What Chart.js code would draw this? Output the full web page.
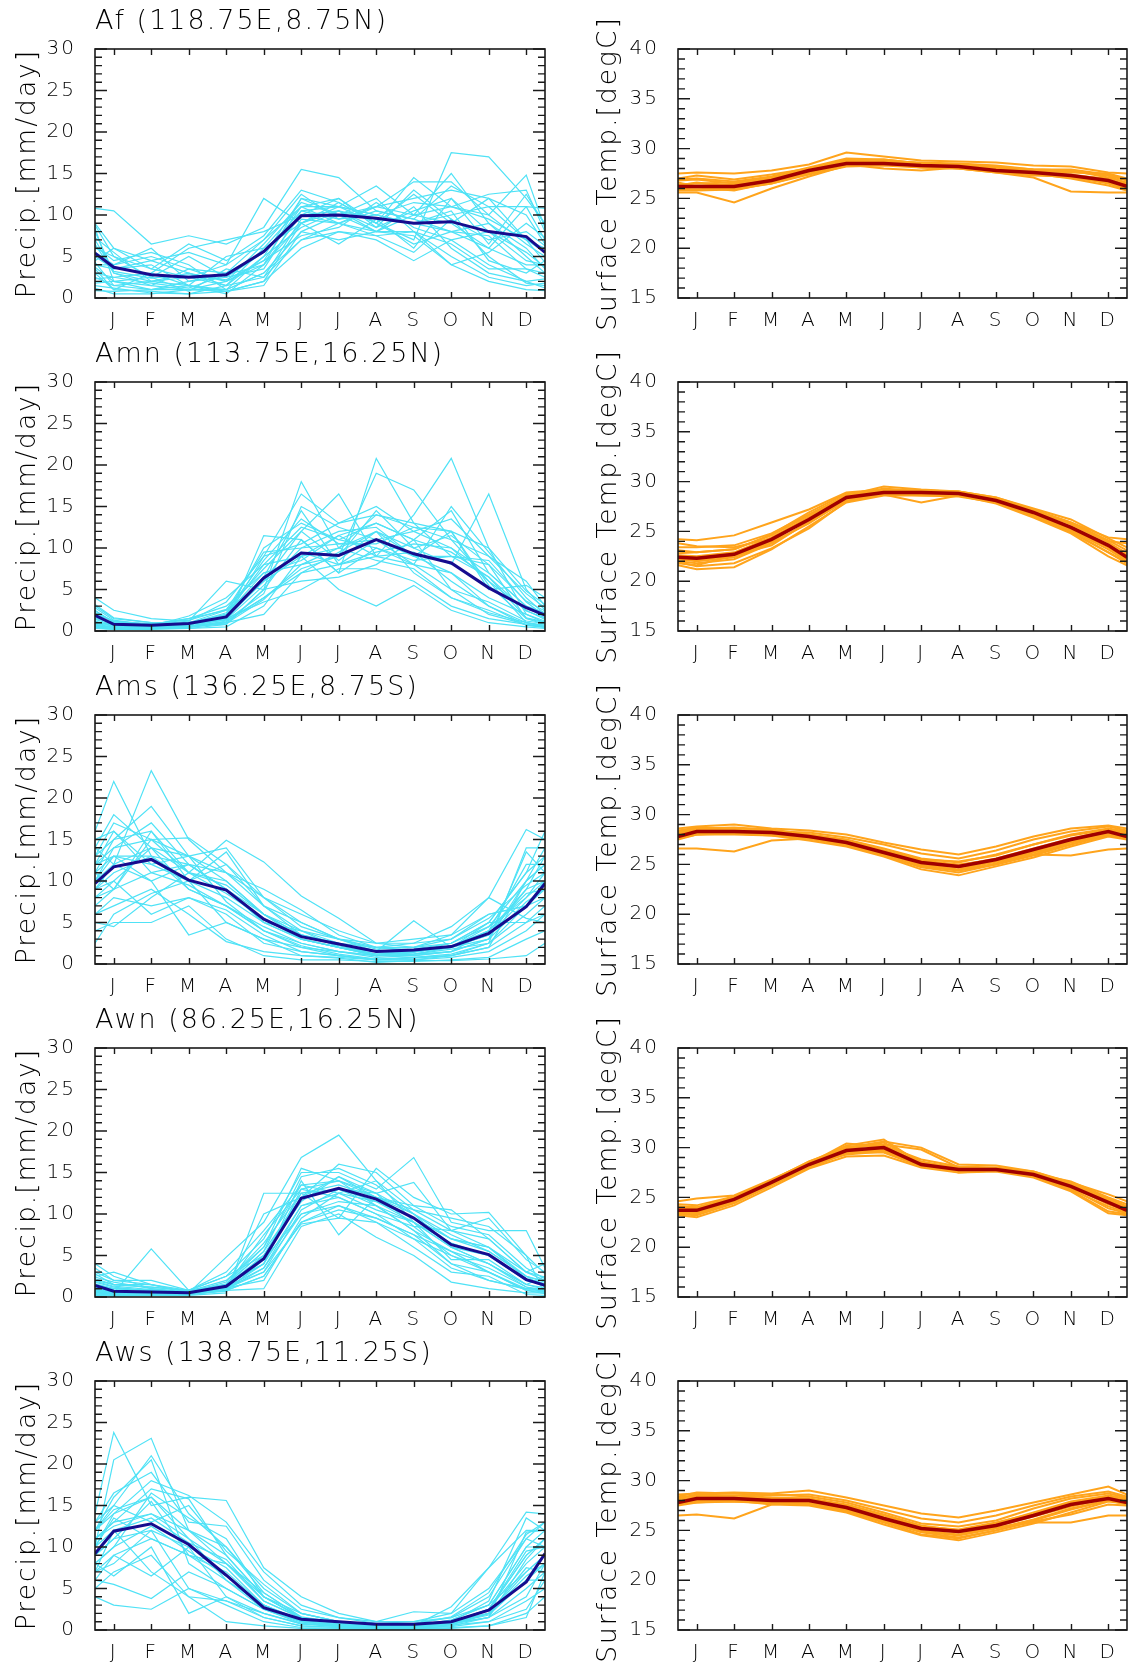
<!DOCTYPE html>
<html>
<head>
<meta charset="utf-8">
<script src="https://cdn.jsdelivr.net/npm/chart.js@4.4.1/dist/chart.umd.min.js"></script>
<style>
html,body{margin:0;padding:0;background:#fff;width:1128px;height:1668px;overflow:hidden;}
canvas{position:absolute;}
</style>
</head>
<body>
<script>
// ---------- axis / category data ----------
const monthLabels = ['J','F','M','A','M','J','J','A','S','O','N','D'];
const monthCenters = [0.5,1.5,2.5,3.5,4.5,5.5,6.5,7.5,8.5,9.5,10.5,11.5];
const xPositions = [0,0.5,1.5,2.5,3.5,4.5,5.5,6.5,7.5,8.5,9.5,10.5,11.5,12];
const precipRange = [0,30];
const tempRange = [15,40];
const majorStep = 5;
const minorStep = 1;
const precipLabel = 'Precip.[mm/day]';
const tempLabel = 'Surface Temp.[degC]';
const panelTitles = ['Af (118.75E,8.75N)','Amn (113.75E,16.25N)','Ams (136.25E,8.75S)','Awn (86.25E,16.25N)','Aws (138.75E,11.25S)'];

// ---------- Af ----------
const afPrecipMean = [5.4,3.7,2.8,2.5,2.8,5.6,9.9,10.0,9.6,9.0,9.2,8.0,7.4,5.5];
const afPrecipMembers = [
[10.8,10.5,6.5,7.5,6.5,8.5,15.5,14.5,10.5,9.5,8,6,11,10.8],
[9,6,4.5,5.5,4,12,9,11,9,7,17.5,17,12,9],
[8.4,2,1.5,1,1,3,7,9,11,14,14,10,14.8,8.4],
[8,3,2,2.5,1.5,5,12,11,13.5,10,11,12.5,13,8],
[3,1,0.8,0.5,0.8,1.5,8,7,8,10,15,9,5,3],
[4,4,6,2,3,7,11,12,9,12.5,9,6,4,4],
[1.2,0.5,0.5,1,0.8,2,6,8,7,4.5,7,4,2,1.2],
[2.3,2.5,3,6,7,8,10,9,8,11,6,3,2,2.3],
[7.3,5.5,2,3,2,4,12,10,12,8,4,5.5,9,7.3],
[4,3.5,4,1.5,5,6,9,6.5,9.5,6,12,8,4.5,4],
[4.3,1.5,1,2,2.5,3.5,10.5,11,10,9,10,11,7,4.3],
[6.3,4.5,5.5,4,1,5,8.5,10.5,8.5,13,9.5,7,8,6.3],
[1.8,2,2.5,0.8,3.5,2.5,9.5,9,7.5,8,5,2.5,1.5,1.8],
[6.5,3,1.5,3.5,2,6.5,11.5,10,11,12,13,12,10,6.5],
[3.5,1,3,1.5,0.5,4,9,11.5,9,6.5,8,9,6,3.5],
[4.5,6,3.5,2.5,4,7,12.5,9.5,10,9,10.5,4.5,3,4.5],
[0.9,0.8,1,1.5,1,3,8,10,8,7.5,4,2,1,0.9],
[8.8,5,2.5,5,2.5,5.5,10,12,8.5,10.5,12,6.5,12.5,8.8],
[3.7,2,1,1,2,4.5,7.5,8.5,11.5,8.5,7,8,5.5,3.7],
[5,3.5,4.5,3,1.5,6,11,11,10,11.5,11,10,6.5,5],
[2.5,1.5,2,1.5,0.8,2,9,10.5,9.5,9,8,7.5,3.5,2.5],
[5.5,4,5,3.5,3,5.5,10.5,9.5,11,10,9,12,7,5.5],
[1.5,1.2,0.6,0.5,1.5,2.5,7,8,7.5,5.5,9.5,5,1.8,1.5],
[6,5,3.5,6.5,4.5,7.5,13,11.5,9,14.5,11,9.5,7,6],
[3,2.5,1.8,1.2,2.8,4,10,10.5,8,8,6.5,3.5,3.5,3],
[7,3.2,2.4,2.8,2.2,4.5,11,9,10.5,9.5,13.5,11,11,7]
];
const afTempMean = [26.2,26.2,26.2,26.8,27.8,28.5,28.5,28.3,28.2,27.8,27.6,27.3,26.8,26.2];
const afTempMembers = [
[25.6,25.6,24.6,26.0,27.2,28.3,28.5,28.1,28.0,27.6,27.1,25.7,25.6,25.6],
[27.5,27.6,27.5,27.8,28.4,29.6,29.2,28.8,28.7,28.6,28.3,28.2,27.6,27.5],
[26.8,26.9,26.5,27.1,27.9,28.8,28.9,28.5,28.4,28.2,27.9,27.8,27.3,26.8],
[25.9,25.9,26.0,26.5,27.4,28.2,28.3,28.1,28.0,27.6,27.3,27.2,26.5,25.9],
[26.4,26.5,26.6,27.0,27.7,28.7,28.4,28.4,28.3,27.9,27.7,27.7,27.3,26.4],
[26.0,26.1,25.8,26.6,27.6,28.5,28.8,28.3,28.0,27.7,27.4,27.1,26.6,26.0],
[27.0,27.3,26.9,27.4,28.0,28.9,28.6,28.5,28.4,28.1,27.8,27.6,27.5,27.0],
[26.2,26.3,26.4,26.8,27.6,28.4,28.0,27.8,28.1,27.8,27.6,27.4,26.9,26.2],
[26.6,26.2,26.3,26.9,27.8,28.6,28.7,28.6,28.5,28.3,27.9,27.8,27.1,26.6],
[25.8,25.8,25.9,26.5,27.5,28.3,28.6,28.2,28.2,27.9,27.5,27.0,26.3,25.8],
[26.9,27.0,26.7,27.2,28.1,29.0,28.9,28.5,28.3,28.0,27.9,27.9,27.4,26.9],
[26.3,26.6,26.2,26.7,27.6,28.5,28.5,28.2,28.2,28.0,27.5,27.3,27.0,26.3]
];

// ---------- Amn ----------
const amnPrecipMean = [1.9,0.8,0.7,0.9,1.7,6.4,9.4,9.1,11.0,9.3,8.2,5.2,2.8,1.9];
const amnPrecipMembers = [
[4,2.5,1.5,1.2,6,5,18,10,12,9,12,5,5.5,4],
[0.8,0.5,0.3,0.5,1,11.5,11,7,20.8,13,9,8,1.5,0.8],
[1,0.8,0.5,1,2.5,6,12,16.5,9,14,20.8,10,2,1],
[2.5,1,0.8,1.5,3,7,8,9,14.5,10,8,16.5,5,2.5],
[0.3,0.2,0.2,0.3,0.5,3,9,5,3,5.5,2.5,1,0.5,0.3],
[1.5,1,0.5,0.8,1.5,9,16.5,13,15,12,10,7,3,1.5],
[0.5,0.3,0.5,0.5,1.2,4,7.5,9,19,17,11,6,1,0.5],
[2,1.2,0.6,0.8,2,8,12.5,11,10,8,15,9.5,4,2],
[0.5,0.5,0.3,0.3,0.8,5,6,6.5,8,11,5,2,0.8,0.5],
[1.2,0.6,0.8,1.5,2.5,9.5,10,12,12.5,9,7,4,2,1.2],
[3,1.5,1,0.5,1.5,6.5,14.5,8,11,12,13.5,9,6,3],
[0.5,0.3,0.5,1,1.5,3.5,5,7.5,7.5,6,3,1.5,0.8,0.5],
[1,0.8,0.6,1.8,4,8,9,10,14,13,12,5.5,1.5,1],
[1.8,0.8,0.5,0.6,0.8,5,11,7,10,8.5,9,8.5,3.5,1.8],
[0.6,0.4,0.3,0.7,2,7,8.5,11.5,9,9.5,6,3,1,0.6],
[2.2,1.2,0.8,1,2,10,13,11,13,11,14.5,7,3,2.2],
[0.4,0.2,0.3,0.4,1,2,7,9.5,12,7,4,2.5,0.7,0.4],
[1.4,0.7,0.6,0.9,1.8,6.5,9.5,8,9.5,10.5,10,6,2.5,1.4],
[0.9,0.6,0.5,0.8,1.3,4.5,15,12.5,11,8,5,3.5,1.2,0.9],
[2.8,1.3,0.7,1.2,3.5,9,10.5,13,14,12.5,11,9,4.5,2.8],
[1.1,0.6,0.4,0.6,1.4,5.5,10,10.5,11,9,9,6.5,1.6,1.1],
[2.4,1.1,0.9,1.3,2.6,7.5,12,8.5,12,10,11.5,8,3.6,2.4],
[0.7,0.4,0.3,0.5,0.9,3.8,8,10,8.5,7.5,4,2.2,1,0.7],
[1.6,0.9,0.6,0.9,1.6,6,9,11.5,13,11,9.5,6.5,2.4,1.6],
[3.2,1.6,1,0.9,2.2,8.5,13.5,10.5,10.5,12.5,12,10,4.8,3.2],
[0.5,0.3,0.4,0.6,1.1,4,7,8,9,8,7,3,0.7,0.5]
];
const amnTempMean = [22.4,22.3,22.7,24.2,26.2,28.4,28.9,28.9,28.8,28.1,26.9,25.4,23.6,22.4];
const amnTempMembers = [
[24.2,24.1,24.6,25.9,27.2,28.9,29.2,29.1,29.0,28.3,27.2,25.9,24.4,24.2],
[21.6,21.2,21.4,23.2,25.5,27.9,28.6,28.6,28.6,27.8,26.4,24.8,22.5,21.6],
[22.8,22.9,23.2,24.6,26.6,28.6,29.5,29.2,29.0,28.4,27.2,25.7,23.9,22.8],
[22.0,21.8,22.2,23.8,25.9,28.1,28.7,27.9,28.6,27.9,26.6,25.1,23.2,22.0],
[23.4,23.4,23.6,24.8,26.7,28.6,29.0,29.1,29.0,28.4,27.3,26.2,24.3,23.4],
[22.2,22.0,22.4,23.9,25.8,28.2,28.8,28.8,28.7,28.0,26.8,25.2,23.4,22.2],
[22.6,22.5,22.9,24.4,26.4,28.5,29.0,28.9,28.8,28.1,26.9,25.5,23.7,22.6],
[21.9,21.5,21.8,23.3,25.3,28.0,28.8,28.6,28.5,27.9,26.5,24.9,22.9,21.9],
[23.1,22.9,23.2,24.7,26.9,28.8,29.1,29.0,28.9,28.3,27.1,25.9,24.1,23.1],
[22.4,22.1,22.6,23.6,26.0,28.3,28.9,29.0,28.9,28.2,26.8,25.3,23.5,22.4],
[23.8,23.5,23.4,24.3,26.4,28.5,29.3,29.0,28.7,28.1,27.0,25.8,24.0,23.8],
[21.8,21.6,22.6,24.0,26.3,28.4,28.7,28.7,28.7,28.0,26.7,25.0,22.9,21.8]
];

// ---------- Ams ----------
const amsPrecipMean = [9.7,11.7,12.6,10.1,8.9,5.4,3.3,2.4,1.5,1.7,2.1,3.7,6.9,9.7];
const amsPrecipMembers = [
[16,22,13,12,9,6,4,3,2,1.5,2,5,11,16],
[9,12,23.3,15,11,8,5,3,2.5,3,3.5,6,7,9],
[5,4.5,8,11,14.9,12.3,8.2,5.5,2.5,2,3.5,8,5.5,5],
[14,18,14,9,7,4,2.5,1.5,0.8,1,1.5,3,10,14],
[11,15,19,13,10,6,3,2,1,1.2,2,4.5,8,11],
[4,5,5,7,3,1,0.5,0.5,0.3,0.3,0.5,0.8,3,4],
[13,17,15,15.2,12,7,3.5,2.5,1.5,5.2,2,3.5,9,13],
[7,9,16,10,8,5,4,2,1,1.5,2.5,5,5,7],
[12,13,10,3.5,5,3,2,1,0.5,0.8,1,2,10,12],
[15,16,12,13,14,8,6,4,2.5,2.5,4.5,8,16.2,15],
[8,10,6,8,6,2.5,1.5,1,0.5,0.5,1,2.5,6,8],
[10,14,17,12,11,9,6.5,3.5,2,2.5,3,6,7,10],
[6,7,9,6,2.7,1.5,1,0.8,0.5,0.5,0.8,1.5,4,6],
[12,16,11,12,9,5,3,2,1.5,1.2,1.5,4,12,12],
[9,11,13,9,7,4.5,2.5,1.5,1,1.5,2,3,7.5,9],
[13,15,16,11,10,6,3.5,2.5,2,2,2.5,5,11,13],
[2.5,6,8.5,10,5,3,1,0.7,0.2,0.4,0.4,0.6,1,2.5],
[10,13,12,10,13.5,7,5,3,1.5,1.5,2,4,9,10],
[11,9,15,11,8.5,5.5,3,2,1,1,1.5,3,13.5,11],
[14,12,14,13,7.5,4,2,1.5,1,1.2,1.8,2.5,14,14],
[10,12,10,12,9,5,3,2,1.2,1.5,2,3.5,8,10],
[12,14,15,13,11,7,4,2.5,1.5,1.8,2.5,4.5,10,12],
[8,9,11,9.5,7,4,2.2,1.2,0.6,0.8,1.2,2.5,7,8],
[11,13,13,10,12,8,4.5,3,1.8,2,3,5.5,9.5,11],
[9,10,14,11,9.5,6,3.5,2.2,1.2,1.4,2.2,4,8.5,9],
[6,8,7,8,6.5,3.5,1.5,1,0.6,0.7,1,2,5,6]
];
const amsTempMean = [27.8,28.3,28.3,28.2,27.8,27.2,26.2,25.2,24.8,25.5,26.5,27.5,28.3,27.8];
const amsTempMembers = [
[26.6,26.6,26.3,27.4,27.6,27.0,26.0,25.1,24.7,25.3,26.0,25.9,26.5,26.6],
[28.6,28.8,29.0,28.6,28.4,28.0,27.2,26.5,26.0,26.8,27.8,28.6,28.9,28.6],
[28.0,28.4,28.4,28.3,27.9,27.3,26.3,25.3,24.9,25.6,26.6,27.6,28.4,28.0],
[27.6,28.0,28.0,27.9,27.6,27.0,25.9,24.7,24.2,25.0,26.0,27.2,28.0,27.6],
[28.3,28.5,28.5,28.4,28.0,27.5,26.6,25.6,25.2,26.0,27.0,28.0,28.6,28.3],
[27.5,28.0,28.1,27.9,27.4,26.8,25.8,24.5,23.9,24.8,25.7,26.8,27.8,27.5],
[28.2,28.6,28.7,28.5,28.0,27.4,26.4,25.5,25.3,25.9,27.0,27.9,28.5,28.2],
[27.9,28.2,28.2,28.0,27.7,27.1,26.1,25.0,24.5,25.3,26.3,27.3,28.2,27.9],
[28.4,28.7,28.6,28.3,28.2,27.7,27.0,26.1,25.6,26.4,27.5,28.3,28.8,28.4],
[27.7,28.1,28.3,28.1,27.7,27.2,26.2,24.9,24.4,25.0,25.9,27.0,28.1,27.7],
[28.1,28.4,28.3,28.2,27.8,27.3,26.4,25.4,25.0,25.5,26.5,27.5,28.4,28.1],
[27.8,28.0,28.2,28.0,27.6,26.9,25.9,24.8,24.4,25.1,26.2,27.0,27.9,27.8]
];

// ---------- Awn ----------
const awnPrecipMean = [1.4,0.7,0.6,0.5,1.3,4.6,11.9,13.1,11.8,9.5,6.3,5.1,2.1,1.4];
const awnPrecipMembers = [
[2.5,3,1.5,0.5,4.8,9,16.8,19.5,14,9,6,4,1.5,2.5],
[1,0.5,5.8,0.8,1.5,4,13,12,10,7,5,3,1,1],
[0.3,0.2,0.2,0.2,0.5,12.5,12.5,9.5,15.5,12,10,10.2,5,0.3],
[3.5,2,2,0.8,2.5,7,15,15,13,16.8,9,8,8,3.5],
[0.5,0.3,0.4,0.3,0.8,1,8.5,10,7.2,5,1.8,1,0.5,0.5],
[1.5,1,0.8,0.6,1.5,4,14,7.5,12,10,6,5,2,1.5],
[4,2.5,1,0.5,1,10,12,16,15,11,10.5,7,3,4],
[0.8,0.5,0.6,0.4,1.2,3,10.5,13,11,8,4,2,1,0.8],
[2,1.5,1.2,0.7,2,6,15.5,14,12.5,13.8,8,6,3,2],
[0.2,0.1,0.2,0.3,0.8,2.5,9,11,9,6,3,2.5,0.3,0.2],
[1.2,0.8,0.5,0.5,1,5,12,14.5,12,9.5,7,6,2.5,1.2],
[2.8,1.5,1.2,0.8,3,8,13.5,12.5,14,10.5,9.5,8.5,5,2.8],
[0.6,0.3,0.4,0.4,0.9,3.5,11,12,10,8.5,5,3.5,1.2,0.6],
[1.8,1.2,0.7,0.4,1.5,5.5,14.5,15.5,13.5,10,7.5,5.5,2.5,1.8],
[0.9,0.5,0.6,0.5,1.1,2,9.5,12.5,11.5,9,4.5,4.5,1.5,0.9],
[2.2,1.5,1.5,0.6,1.8,6.5,12.5,13.5,12,11,8.5,7.5,3.5,2.2],
[0.4,0.2,0.3,0.3,0.7,4.5,10,11,9.5,7.5,5.5,3,0.8,0.4],
[1.4,1,0.8,0.6,1.3,7.5,13,14,11,9,6.5,5,2,1.4],
[3,2,1.5,0.8,2.5,5,11.5,14.5,12.5,8.5,8,9.5,4.5,3],
[0.7,0.4,0.5,0.3,1,3,8.8,9.5,9,7,3.5,2,0.9,0.7],
[1.6,1,0.8,0.5,1.4,5,12.5,13,12.5,10,7,6,2.2,1.6],
[0.9,0.6,0.5,0.4,1,4,11,12.5,10.5,9,6,4,1.2,0.9],
[2.4,1.8,1,0.6,1.6,6,13.5,14,12,10.5,8,7,3,2.4],
[1.1,0.7,0.6,0.5,1.2,3.5,10,11.5,11,8,5.5,4,1.5,1.1],
[1.9,1.3,0.9,0.6,1.5,5.5,12,13,11.5,9.5,7,5.5,2.5,1.9],
[0.6,0.4,0.4,0.3,0.8,2.5,9,10.5,9.5,7.5,4,3,0.8,0.6]
];
const awnTempMean = [23.7,23.7,24.8,26.5,28.3,29.7,30.0,28.3,27.8,27.8,27.3,26.1,24.5,23.7];
const awnTempMembers = [
[24.6,24.9,25.2,26.8,28.5,30.0,30.6,30.0,28.3,28.2,27.6,26.5,25.3,24.6],
[23.2,23.0,24.2,26.0,27.9,29.1,29.2,28.0,27.5,27.6,27.0,25.6,23.4,23.2],
[23.8,23.7,24.9,26.6,28.4,30.2,30.8,28.4,27.9,27.9,27.5,26.4,24.7,23.8],
[23.5,23.4,24.5,26.3,28.1,29.5,29.5,28.1,27.6,27.7,27.1,25.8,24.1,23.5],
[24.0,24.0,25.0,26.7,28.6,29.9,30.3,29.8,28.0,27.9,27.4,26.3,24.8,24.0],
[23.4,23.3,24.6,26.4,28.2,29.6,29.8,28.3,27.8,27.8,27.2,25.9,23.9,23.4],
[24.3,24.2,25.1,26.6,28.4,30.4,30.1,28.5,28.0,27.9,27.4,26.6,25.0,24.3],
[23.6,23.6,24.7,26.5,28.3,29.3,29.6,28.2,27.7,27.7,27.3,26.0,24.4,23.6],
[23.9,23.9,24.9,26.6,28.3,29.8,30.5,28.6,27.9,27.9,27.4,26.2,24.6,23.9],
[23.3,23.2,24.4,26.2,28.0,29.4,29.7,28.4,27.5,27.7,27.2,25.7,23.6,23.3],
[24.1,24.0,25.0,26.7,28.6,30.1,30.2,28.8,28.1,28.0,27.6,26.4,24.9,24.1],
[23.7,23.5,24.6,26.3,28.1,29.6,29.9,28.2,27.7,27.8,27.3,26.1,24.3,23.7]
];

// ---------- Aws ----------
const awsPrecipMean = [9.2,11.9,12.8,10.3,6.6,2.7,1.3,1.0,0.7,0.7,1.0,2.4,5.8,9.2];
const awsPrecipMembers = [
[14,23.8,15,16,15.6,7.5,4,2,1,2.2,2,7.5,14.2,14],
[10,20.5,23.1,12,8,4,2,1,0.5,0.8,1.5,3,10,10],
[4,3,2.5,5,3,1,0.3,0.2,0.1,0.1,0.3,0.5,2,4],
[12,15,21,14,10,5,2,1,0.5,0.5,2.8,7.5,12,12],
[8,6.5,10,2,4,1.5,0.5,0.3,0.2,0.2,0.5,1.5,4,8],
[13,16.5,19,13,12.5,6,2.5,1.5,0.8,1,1.5,4,11,13],
[6,5.5,3.8,7,5,2.5,1,0.5,0.3,0.5,0.8,2,6,6],
[11,13,17,15.8,9,4,1.5,0.8,0.5,0.6,1,2.5,9,11],
[7,12,7,4,1,0.5,0.2,0.1,0.1,0.1,0.2,0.5,1.5,7],
[12,14.5,16,12,10,4.5,1.5,0.8,0.5,0.5,1,3.5,13.5,12],
[7,8,12,5,3.5,2,0.8,0.4,0.2,0.3,0.6,2,7.5,7],
[10,14,18,16.2,13,7,3,1.5,1,1,2,5,11,10],
[5,7,9,4,3.5,1.5,0.5,0.3,0.2,0.2,0.4,1,3.5,5],
[11,12.5,14,11,6,3,1,0.6,0.3,0.4,0.8,1.5,8.5,11],
[9,11,15.5,9,8,3.5,1.5,0.8,0.4,0.5,1.2,3,7,9],
[13,15,13,15,9.5,5.5,2,1,0.6,0.7,1.6,4.5,11.5,13],
[6,9,6.5,10,4,2,0.7,0.4,0.2,0.3,0.6,1,2.5,6],
[10,13.5,11,9,7,3,1.2,0.6,0.3,0.4,0.7,2.5,9.5,10],
[8,10,16.5,13.5,11,4,1.5,0.8,0.5,0.6,1,2,6.5,8],
[12,16,20.5,8,5,2.5,0.8,0.5,0.2,0.3,0.8,1.5,11.8,12],
[11,13,14,12,9,4,1.5,0.8,0.4,0.5,1,2.5,9,11],
[9,11,12,10,7.5,3,1.2,0.6,0.3,0.4,0.8,2,7,9],
[12,14,16,11,8,4.5,1.6,0.9,0.5,0.6,1.2,3,10,12],
[7,9,11,9,6,2.5,1,0.5,0.3,0.4,0.7,1.5,5,7],
[10,12,13.5,10.5,8.5,3.5,1.4,0.7,0.4,0.5,1,2.5,8,10],
[8,10,12.5,9.5,6.5,3,1,0.5,0.3,0.4,0.8,1.8,6,8]
];
const awsTempMean = [27.8,28.2,28.2,28.0,28.0,27.3,26.2,25.2,24.9,25.5,26.5,27.6,28.2,27.8];
const awsTempMembers = [
[26.5,26.6,26.2,27.6,27.8,27.2,26.1,25.2,24.8,25.3,25.8,25.8,26.5,26.5],
[28.6,28.7,28.8,28.7,29.0,28.3,27.5,26.7,26.3,27.0,27.8,28.6,29.4,28.6],
[28.0,28.4,28.3,28.2,28.2,27.5,26.5,25.4,25.1,25.8,26.7,27.8,28.4,28.0],
[27.6,27.9,27.9,27.7,27.6,26.9,25.8,24.6,24.2,25.0,26.0,27.1,28.0,27.6],
[28.3,28.5,28.5,28.6,28.4,27.8,26.8,25.7,25.4,26.0,27.2,28.2,28.7,28.3],
[27.7,27.8,28.0,27.6,27.5,26.8,25.6,24.5,24.0,24.8,25.7,26.8,27.9,27.7],
[28.2,28.6,28.5,28.3,28.2,27.6,26.6,25.5,25.0,25.7,26.8,27.9,28.5,28.2],
[27.9,28.1,28.2,27.9,27.9,27.2,26.1,25.0,24.6,25.4,26.4,27.4,28.2,27.9],
[28.4,28.8,28.7,28.5,28.6,28.0,27.1,26.2,25.8,26.5,27.5,28.4,28.9,28.4],
[27.5,27.8,27.9,27.8,27.7,27.0,25.9,24.8,24.3,25.0,25.9,26.6,27.6,27.5],
[28.1,28.3,28.3,28.1,28.0,27.4,26.3,25.3,24.9,25.6,26.6,27.6,28.3,28.1],
[27.8,28.0,28.1,27.8,27.8,27.1,26.0,24.9,24.5,25.2,26.1,27.2,28.0,27.8]
];

// ---------- styling ----------
const FONT = "'DejaVu Sans', 'Liberation Sans', sans-serif";
const FONT_WEIGHT = '200';
const TEXT_COLOR = '#000000';
const precipMemberColor = '#4FE2F6';
const precipMeanColor = '#160C8E';
const tempMemberColor = '#FFA41C';
const tempMeanColor = '#A00000';

const rows = [
  {title: panelTitles[0], pMean: afPrecipMean,  pMembers: afPrecipMembers,  tMean: afTempMean,  tMembers: afTempMembers},
  {title: panelTitles[1], pMean: amnPrecipMean, pMembers: amnPrecipMembers, tMean: amnTempMean, tMembers: amnTempMembers},
  {title: panelTitles[2], pMean: amsPrecipMean, pMembers: amsPrecipMembers, tMean: amsTempMean, tMembers: amsTempMembers},
  {title: panelTitles[3], pMean: awnPrecipMean, pMembers: awnPrecipMembers, tMean: awnTempMean, tMembers: awnTempMembers},
  {title: panelTitles[4], pMean: awsPrecipMean, pMembers: awsPrecipMembers, tMean: awsTempMean, tMembers: awsTempMembers}
];

const spacingPlugin = {
  id: 'spacing',
  beforeDraw(chart) { chart.ctx.letterSpacing = '2px'; }
};

const framePlugin = {
  id: 'frame',
  afterDatasetsDraw(chart) {
    const {ctx, chartArea: {left, right, top, bottom}} = chart;
    const xs = chart.scales.x, ys = chart.scales.y;
    ctx.save();
    ctx.strokeStyle = '#1a1a1a';
    ctx.lineWidth = 1.4;
    ctx.beginPath();
    monthCenters.forEach(v => {
      const px = Math.round(xs.getPixelForValue(v)) + 0.5;
      ctx.moveTo(px, top); ctx.lineTo(px, top + 6);
      ctx.moveTo(px, bottom); ctx.lineTo(px, bottom - 6);
    });
    for (let v = ys.min; v <= ys.max; v += minorStep) {
      const py = ys.getPixelForValue(v);
      const len = ((v - ys.min) % majorStep === 0) ? 12 : 7;
      ctx.moveTo(left, py); ctx.lineTo(left + len, py);
      ctx.moveTo(right, py); ctx.lineTo(right - len, py);
    }
    ctx.stroke();
    ctx.lineWidth = 1.6;
    ctx.strokeRect(left, top, right - left, bottom - top);
    ctx.restore();
  }
};

function toPoints(arr) { return arr.map((v, i) => ({x: xPositions[i], y: v})); }

function makeChart(col, r, title, yLabel, range, mean, members, memberColor, meanColor, memberWidth, meanWidth) {
  const W = col === 0 ? 560 : 568;
  const H = 354;
  const cv = document.createElement('canvas');
  cv.width = W; cv.height = H;
  cv.style.left = (col === 0 ? 0 : 560) + 'px';
  cv.style.top = (333 * r - 11) + 'px';
  cv.style.width = W + 'px'; cv.style.height = H + 'px';
  document.body.appendChild(cv);

  const datasets = [{data: toPoints(mean), borderColor: meanColor, borderWidth: meanWidth}]
    .concat(members.map(m => ({data: toPoints(m), borderColor: memberColor, borderWidth: memberWidth})));

  new Chart(cv, {
    type: 'line',
    data: {datasets},
    plugins: [spacingPlugin, framePlugin],
    options: {
      responsive: false,
      animation: false,
      devicePixelRatio: 1,
      layout: {padding: {left: 0, right: col === 0 ? 15 : 1, top: 0, bottom: 0}},
      plugins: {legend: {display: false}, tooltip: {enabled: false}, title: {display: false}},
      elements: {point: {radius: 0}, line: {tension: 0, borderCapStyle: 'butt', borderJoinStyle: 'miter'}},
      scales: {
        x: {
          type: 'linear', position: 'bottom', min: 0, max: 12,
          grid: {display: false}, border: {display: false},
          afterBuildTicks: s => { s.ticks = monthCenters.map(v => ({value: v})); },
          ticks: {autoSkip: false, maxRotation: 0, minRotation: 0, padding: 3, color: TEXT_COLOR,
                  font: {family: FONT, size: 20, weight: FONT_WEIGHT}, callback: (v, i) => monthLabels[i]},
          afterFit: s => { s.height = 45; }
        },
        x2: {
          type: 'linear', position: 'top', min: 0, max: 12,
          grid: {display: false}, border: {display: false}, ticks: {display: false},
          title: {display: !!title, text: title || '', align: 'start', color: TEXT_COLOR,
                  font: {family: FONT, size: 27, weight: FONT_WEIGHT}, padding: {top: 17, bottom: 0}},
          afterFit: s => { s.height = 60; }
        },
        y: {
          type: 'linear', position: 'left', min: range[0], max: range[1],
          grid: {display: false}, border: {display: false},
          ticks: {stepSize: majorStep, padding: 11, color: TEXT_COLOR, font: {family: FONT, size: 20, weight: FONT_WEIGHT}},
          title: {display: true, text: yLabel, color: TEXT_COLOR,
                  font: {family: FONT, size: 26.5, weight: FONT_WEIGHT}, padding: {top: col === 0 ? 12 : 33, bottom: 0}},
          afterFit: s => { s.width = col === 0 ? 95 : 118; }
        }
      }
    }
  });
}

rows.forEach((row, r) => {
  makeChart(0, r, row.title, precipLabel, precipRange, row.pMean, row.pMembers, precipMemberColor, precipMeanColor, 1.2, 3);
  makeChart(1, r, null, tempLabel, tempRange, row.tMean, row.tMembers, tempMemberColor, tempMeanColor, 2, 3.5);
});
</script>
</body>
</html>
